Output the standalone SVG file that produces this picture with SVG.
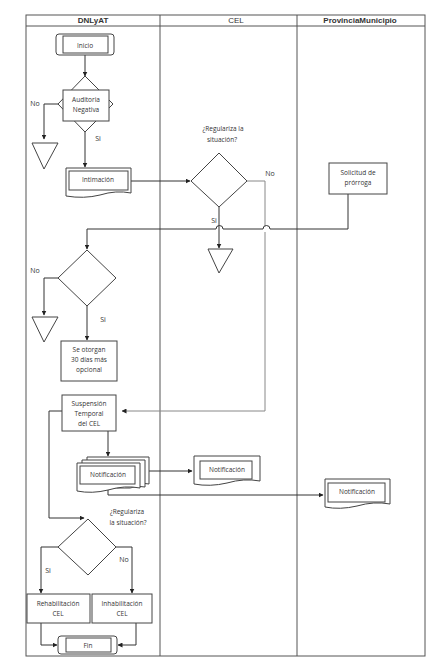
<svg xmlns="http://www.w3.org/2000/svg" width="445" height="667" viewBox="0 0 445 667">
<defs>
<marker id="ah" viewBox="0 0 10 10" refX="9" refY="5" markerWidth="5" markerHeight="5" orient="auto"><path d="M0,0 L10,5 L0,10 z" fill="#222"/></marker>
<style>
.lane{fill:none;stroke:#555;stroke-width:1}
.sh{fill:#fff;stroke:#444;stroke-width:1}
.c{fill:none;stroke:#333;stroke-width:1}
.cg{fill:none;stroke:#888;stroke-width:1}
.t{font-family:"Open Sans","Liberation Sans",sans-serif;font-size:6.5px;fill:#333;text-anchor:middle}
.h{font-family:"Liberation Sans",sans-serif;font-size:8px;font-weight:bold;fill:#333;text-anchor:middle}
.hn{font-family:"Liberation Sans",sans-serif;font-size:8px;fill:#333;text-anchor:middle}
.lb{font-family:"Open Sans","Liberation Sans",sans-serif;font-size:7px;fill:#333;text-anchor:middle}
</style>
</defs>
<rect width="445" height="667" fill="#fff"/>
<g id="lanes">
<rect class="lane" x="26" y="15" width="399" height="641"/>
<line class="lane" x1="26" y1="26" x2="425" y2="26"/>
<line class="lane" x1="160" y1="15" x2="160" y2="656"/>
<line class="lane" x1="297" y1="15" x2="297" y2="656"/>
<text class="h" x="93" y="23">DNLyAT</text>
<text class="hn" x="236" y="23">CEL</text>
<text class="h" x="360" y="23">ProvinciaMunicipio</text>
</g>
<g id="connectors">
<line class="c" x1="85" y1="55" x2="85" y2="76" marker-end="url(#ah)"/>
<polyline class="c" points="58,104 44,104 44,139" marker-end="url(#ah)"/>
<line class="c" x1="85" y1="132" x2="85" y2="167" marker-end="url(#ah)"/>
<line class="c" x1="131" y1="181" x2="190" y2="181" marker-end="url(#ah)"/>
<polyline class="cg" points="247,181 265,181 265,226"/>
<path class="cg" d="M265,232 V411 H122" marker-end="url(#ah)"/>
<line class="c" x1="219" y1="207" x2="219" y2="248" marker-end="url(#ah)"/>
<path class="c" d="M348,194 V229 H270 A3,3 0 0 0 263,229 H223 A3,3 0 0 0 216,229 H87 V249" marker-end="url(#ah)"/>
<polyline class="c" points="58,278 44,278 44,315" marker-end="url(#ah)"/>
<line class="c" x1="87" y1="306" x2="87" y2="340" marker-end="url(#ah)"/>
<line class="c" x1="108" y1="431" x2="108" y2="456" marker-end="url(#ah)"/>
<polyline class="c" points="62,411 49,411 49,518 84,518" marker-end="url(#ah)"/>
<line class="c" x1="147" y1="471" x2="192" y2="471" marker-end="url(#ah)"/>
<polyline class="c" points="108,490 108,495 323,495" marker-end="url(#ah)"/>
<polyline class="c" points="58,547 41,547 41,593" marker-end="url(#ah)"/>
<polyline class="c" points="116,547 132,547 132,593" marker-end="url(#ah)"/>
<polyline class="c" points="41,623 41,645 57,645" marker-end="url(#ah)"/>
<polyline class="c" points="136,623 136,645 118,645" marker-end="url(#ah)"/>
</g>
<g id="inicio">
<rect class="sh" x="56" y="34" width="58" height="21" rx="3"/>
<rect class="sh" x="63" y="36" width="45" height="17" stroke-width="1.5"/>
<text class="t" x="85" y="47.5">Inicio</text>
</g>
<g id="auditoria">
<polygon class="sh" points="85,76 113,104 85,132 58,104"/>
<rect class="sh" x="63" y="90" width="46" height="31"/>
<text class="t" x="86" y="102">Auditoria</text>
<text class="t" x="86" y="112">Negativa</text>
</g>
<g id="lbl-audit">
<text class="lb" x="35" y="106">No</text>
<text class="lb" x="98" y="141">Si</text>
</g>
<g id="fin1"><polygon class="sh" points="32,143 58,143 44,169"/></g>
<g id="intimacion">
<path class="sh" d="M66,168 H131 V193 Q116,190 100,195 Q84,199 66,196 Z"/>
<rect class="sh" x="69" y="171" width="59" height="19"/>
<text class="t" x="98" y="182">Intimación</text>
</g>
<g id="regulariza1">
<polygon class="sh" points="219,153 247,181 219,207 191,181"/>
<text class="t" x="223" y="131">¿Regulariza la</text>
<text class="t" x="222" y="142">situación?</text>
<text class="lb" x="270" y="176">No</text>
<text class="lb" x="214" y="223">Si</text>
</g>
<g id="fin2"><polygon class="sh" points="208,249 233,249 219,273"/></g>
<g id="solicitud">
<rect class="sh" x="329" y="163" width="58" height="31"/>
<text class="t" x="358" y="175">Solicitud de</text>
<text class="t" x="358" y="185">prórroga</text>
</g>
<g id="decision2">
<polygon class="sh" points="87,250 116,278 87,306 58,278"/>
<text class="lb" x="35" y="273">No</text>
<text class="lb" x="103" y="322">Si</text>
</g>
<g id="fin3"><polygon class="sh" points="32,317 58,317 44,342"/></g>
<g id="otorgan">
<rect class="sh" x="61" y="341" width="56" height="40"/>
<text class="t" x="89" y="352">Se otorgan</text>
<text class="t" x="89" y="362">30 días más</text>
<text class="t" x="89" y="372">opcional</text>
</g>
<g id="suspension">
<rect class="sh" x="62" y="395" width="54" height="36"/>
<text class="t" x="89" y="406">Suspensión</text>
<text class="t" x="89" y="416">Temporal</text>
<text class="t" x="89" y="426">del CEL</text>
</g>
<g id="notif1">
<path class="sh" d="M87,457 H149 V484 Q140,482 134,484 V486 H87 Z"/>
<path class="sh" d="M82,460 H145 V487 Q138,485 130,488 H82 Z"/>
<path class="sh" d="M77,463 H140 V488 Q125,485 108,490 Q92,494 77,491 Z"/>
<rect class="sh" x="80" y="466" width="55" height="18"/>
<text class="t" x="108" y="477">Notificación</text>
</g>
<g id="notif2">
<path class="sh" d="M194,456 H260 V481 Q244,478 227,483 Q210,487 194,484 Z"/>
<rect class="sh" x="200" y="461" width="52" height="18"/>
<text class="t" x="227" y="472">Notificación</text>
</g>
<g id="notif3">
<path class="sh" d="M325,479 H390 V504 Q374,501 357,506 Q340,510 325,507 Z"/>
<rect class="sh" x="328" y="483" width="57" height="19"/>
<text class="t" x="357" y="494">Notificación</text>
</g>
<g id="regulariza2">
<polygon class="sh" points="88,519 116,547 88,575 58,547"/>
<text class="t" x="127" y="514">¿Regulariza</text>
<text class="t" x="128" y="525">la situación?</text>
<text class="lb" x="124" y="562">No</text>
<text class="lb" x="48" y="573">Si</text>
</g>
<g id="rehab">
<rect class="sh" x="27" y="594" width="63" height="29" stroke-width="1.3"/>
<text class="t" x="58" y="606">Rehabilitación</text>
<text class="t" x="58" y="616">CEL</text>
</g>
<g id="inhab">
<rect class="sh" x="92" y="594" width="60" height="29" stroke-width="1.3"/>
<text class="t" x="122" y="606">Inhabilitación</text>
<text class="t" x="122" y="616">CEL</text>
</g>
<g id="fin">
<rect class="sh" x="58" y="636" width="59" height="18" rx="3"/>
<rect class="sh" x="66" y="638" width="45" height="14" stroke-width="1.5"/>
<text class="t" x="88" y="647.5">Fin</text>
</g>
</svg>
